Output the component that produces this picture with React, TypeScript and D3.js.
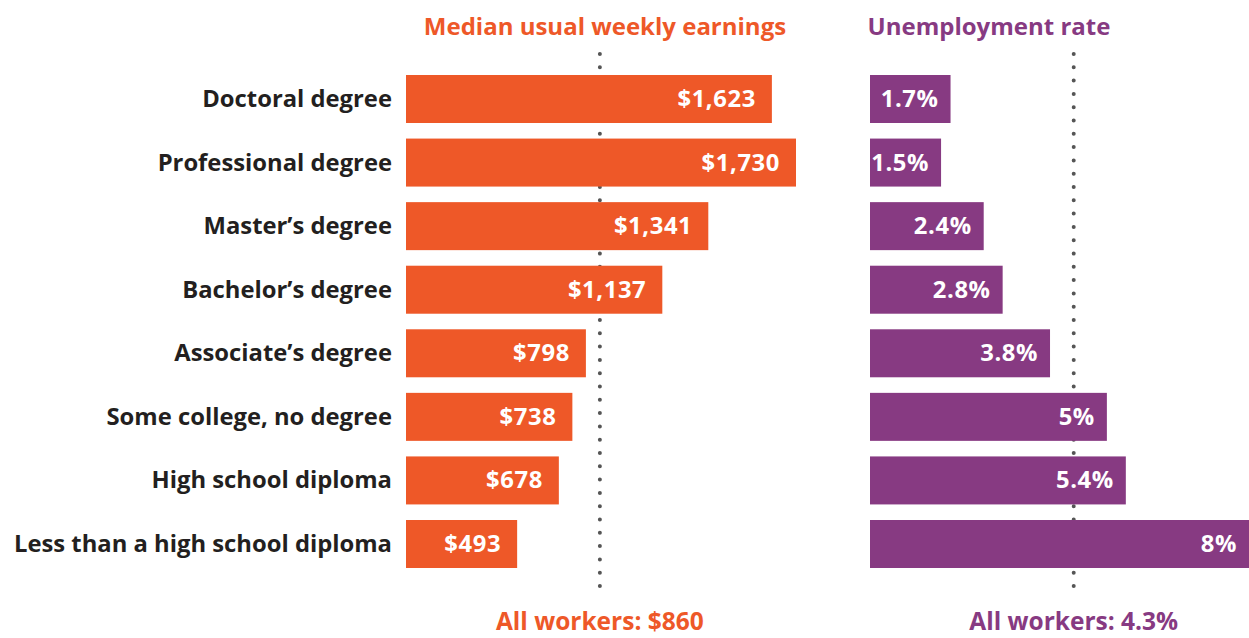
import React from 'react';
import * as d3 from 'd3';

const categories = [
  'Doctoral degree',
  'Professional degree',
  'Master\u2019s degree',
  'Bachelor\u2019s degree',
  'Associate\u2019s degree',
  'Some college, no degree',
  'High school diploma',
  'Less than a high school diploma',
];
const earnings = [1623, 1730, 1341, 1137, 798, 738, 678, 493];
const unemployment = [1.7, 1.5, 2.4, 2.8, 3.8, 5, 5.4, 8];
const allEarnings = 860;
const allUnemployment = 4.3;

const ORANGE = '#EE5828';
const PURPLE = '#873A82';
const FONT = '"Open Sans", Lato, sans-serif';

const App = () => {
  const width = 1249;
  const height = 638;

  const y = d3.scaleBand().domain(categories).range([75, 568]).paddingInner(0.245).paddingOuter(0);
  const xE = d3.scaleLinear().domain([0, 1730]).range([406, 796]);
  const xU = d3.scaleLinear().domain([0, 8]).range([870, 1249]);
  const fmtMoney = d3.format('$,.0f');

  const bh = y.bandwidth();

  return (
    <svg width={width} height={height} style={{ position: 'absolute', left: 0, top: 0 }} fontFamily={FONT}>
      <text x={605} y={35} textAnchor="middle" fill={ORANGE} fontSize={24} fontWeight={700}>
        Median usual weekly earnings
      </text>
      <text x={989} y={35} textAnchor="middle" fill={PURPLE} fontSize={24} fontWeight={700}>
        Unemployment rate
      </text>

      {/* reference lines, behind bars */}
      {[xE(allEarnings), xU(allUnemployment)].map((x, i) => (
        <line key={i} x1={x} x2={x} y1={54} y2={590} stroke="#555" strokeWidth={4}
          strokeLinecap="round" strokeDasharray="0 13.3" />
      ))}

      {categories.map((c, i) => {
        const top = y(c)!;
        const mid = top + bh / 2 + 8;
        return (
          <g key={c}>
            <text x={392} y={mid} textAnchor="end" fill="#231F20" fontSize={23.8} fontWeight={700}>{c}</text>
            <rect x={xE(0)} y={top} width={xE(earnings[i]) - xE(0)} height={bh} fill={ORANGE} />
            <text x={xE(earnings[i]) - 16} y={mid} textAnchor="end" fill="#fff" fontSize={23.8}
              fontWeight={700} letterSpacing={0.6}>
              {fmtMoney(earnings[i])}
            </text>
            <rect x={xU(0)} y={top} width={xU(unemployment[i]) - xU(0)} height={bh} fill={PURPLE} />
            <text x={xU(unemployment[i]) - 12} y={mid} textAnchor="end" fill="#fff" fontSize={23.8}
              fontWeight={700} letterSpacing={0.6}>
              {unemployment[i] + '%'}
            </text>
          </g>
        );
      })}

      <text x={xE(allEarnings)} y={630} textAnchor="middle" fill={ORANGE} fontSize={24.5} fontWeight={700}>
        {'All workers: ' + fmtMoney(allEarnings)}
      </text>
      <text x={xU(allUnemployment)} y={630} textAnchor="middle" fill={PURPLE} fontSize={24.5} fontWeight={700}>
        {'All workers: ' + allUnemployment + '%'}
      </text>
    </svg>
  );
};

export default App;
